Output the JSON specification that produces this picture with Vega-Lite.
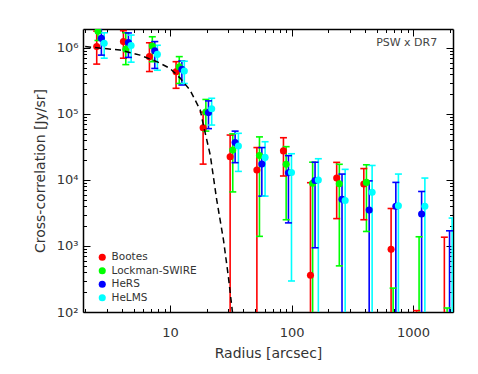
{
  "$schema": "https://vega.github.io/schema/vega-lite/v6.json",
  "width": 370,
  "height": 283,
  "autosize": "none",
  "padding": {"left": 83, "top": 29, "right": 25, "bottom": 62},
  "background": "white",
  "config": {"view": {"stroke": null}},
  "datasets": {
    "d": [
      {"s": "Bootes", "r": 2.49, "v": 1050000, "lo": 570000, "hi": 1800000},
      {"s": "Lockman-SWIRE", "r": 2.55, "v": 1800000, "lo": 1300000, "hi": 2500000},
      {"s": "HeRS", "r": 2.72, "v": 1400000, "lo": 780000, "hi": 2000000},
      {"s": "HeLMS", "r": 2.87, "v": 1180000, "lo": 700000, "hi": 1700000},
      {"s": "Bootes", "r": 4.13, "v": 1250000, "lo": 700000, "hi": 1830000},
      {"s": "Lockman-SWIRE", "r": 4.32, "v": 960000, "lo": 560000, "hi": 1700000},
      {"s": "HeRS", "r": 4.54, "v": 1210000, "lo": 720000, "hi": 1690000},
      {"s": "HeLMS", "r": 4.78, "v": 1090000, "lo": 610000, "hi": 1570000},
      {"s": "Bootes", "r": 6.76, "v": 740000, "lo": 440000, "hi": 1200000},
      {"s": "Lockman-SWIRE", "r": 7.14, "v": 1070000, "lo": 620000, "hi": 1480000},
      {"s": "HeRS", "r": 7.48, "v": 910000, "lo": 490000, "hi": 1250000},
      {"s": "HeLMS", "r": 7.86, "v": 800000, "lo": 460000, "hi": 1100000},
      {"s": "Bootes", "r": 11.2, "v": 437000, "lo": 245000, "hi": 620000},
      {"s": "Lockman-SWIRE", "r": 11.9, "v": 520000, "lo": 290000, "hi": 740000},
      {"s": "HeRS", "r": 12.5, "v": 475000, "lo": 275000, "hi": 635000},
      {"s": "HeLMS", "r": 13.1, "v": 447000, "lo": 290000, "hi": 630000},
      {"s": "Bootes", "r": 18.7, "v": 62000, "lo": 17400, "hi": 107000},
      {"s": "Lockman-SWIRE", "r": 19.7, "v": 107000, "lo": 55000, "hi": 166000},
      {"s": "HeRS", "r": 20.7, "v": 105000, "lo": 60000, "hi": 158000},
      {"s": "HeLMS", "r": 22.0, "v": 120000, "lo": 68000, "hi": 173000},
      {"s": "Bootes", "r": 31.2, "v": 22500, "lo": 1, "hi": 48000},
      {"s": "Lockman-SWIRE", "r": 32.8, "v": 28500, "lo": 6600, "hi": 50000},
      {"s": "HeRS", "r": 34.3, "v": 37000, "lo": 18300, "hi": 55000},
      {"s": "HeLMS", "r": 36.5, "v": 32700, "lo": 13500, "hi": 51000},
      {"s": "Bootes", "r": 51.8, "v": 14200, "lo": 1, "hi": 31000},
      {"s": "Lockman-SWIRE", "r": 54.4, "v": 23500, "lo": 1400, "hi": 45000},
      {"s": "HeRS", "r": 56.9, "v": 17400, "lo": 5700, "hi": 31000},
      {"s": "HeLMS", "r": 60.5, "v": 22000, "lo": 5700, "hi": 38000},
      {"s": "Bootes", "r": 85.7, "v": 27600, "lo": 11500, "hi": 43700},
      {"s": "Lockman-SWIRE", "r": 90.2, "v": 17300, "lo": 2500, "hi": 32000},
      {"s": "HeRS", "r": 94.2, "v": 12900, "lo": 2240, "hi": 23400},
      {"s": "HeLMS", "r": 99.8, "v": 13000, "lo": 295, "hi": 25000},
      {"s": "Bootes", "r": 143, "v": 360, "lo": 1, "hi": 9100},
      {"s": "Lockman-SWIRE", "r": 149, "v": 8900, "lo": 1, "hi": 18600},
      {"s": "HeRS", "r": 156, "v": 9800, "lo": 940, "hi": 18600},
      {"s": "HeLMS", "r": 166, "v": 10000, "lo": 1, "hi": 21000},
      {"s": "Bootes", "r": 235, "v": 10700, "lo": 2600, "hi": 18500},
      {"s": "Lockman-SWIRE", "r": 247, "v": 8800, "lo": 500, "hi": 17300},
      {"s": "HeRS", "r": 260, "v": 5100, "lo": 1, "hi": 12300},
      {"s": "HeLMS", "r": 276, "v": 4900, "lo": 1, "hi": 14500},
      {"s": "Bootes", "r": 393, "v": 8700, "lo": 2500, "hi": 14900},
      {"s": "Lockman-SWIRE", "r": 413, "v": 9200, "lo": 1660, "hi": 17000},
      {"s": "HeRS", "r": 435, "v": 3500, "lo": 1, "hi": 9700},
      {"s": "HeLMS", "r": 460, "v": 6500, "lo": 1, "hi": 16600},
      {"s": "Bootes", "r": 659, "v": 890, "lo": 1, "hi": 3700},
      {"s": "Lockman-SWIRE", "r": 685, "v": 10, "lo": 1, "hi": 230},
      {"s": "HeRS", "r": 721, "v": 4000, "lo": 1, "hi": 9200},
      {"s": "HeLMS", "r": 757, "v": 4070, "lo": 1, "hi": 12300},
      {"s": "Bootes", "r": 1070, "v": 10, "lo": 1, "hi": 105},
      {"s": "Lockman-SWIRE", "r": 1120, "v": 10, "lo": 1, "hi": 1380},
      {"s": "HeRS", "r": 1175, "v": 3050, "lo": 1, "hi": 6700},
      {"s": "HeLMS", "r": 1250, "v": 4000, "lo": 1, "hi": 10700},
      {"s": "Bootes", "r": 1808, "v": 10, "lo": 1, "hi": 1360},
      {"s": "Lockman-SWIRE", "r": 1905, "v": 10, "lo": 1, "hi": 115},
      {"s": "HeRS", "r": 1995, "v": 10, "lo": 1, "hi": 1700},
      {"s": "HeLMS", "r": 2095, "v": 10, "lo": 1, "hi": 2650}
    ],
    "m": [
      {"r": 2.0, "v": 1050000},
      {"r": 3.87, "v": 930000},
      {"r": 5.66, "v": 780000},
      {"r": 7.79, "v": 620000},
      {"r": 10, "v": 490000},
      {"r": 12.1, "v": 350000},
      {"r": 14.6, "v": 230000},
      {"r": 17.7, "v": 115000},
      {"r": 18.8, "v": 68000},
      {"r": 21.4, "v": 24000},
      {"r": 24.2, "v": 5000},
      {"r": 27.5, "v": 1240},
      {"r": 30.2, "v": 340},
      {"r": 32.8, "v": 90},
      {"r": 34.0, "v": 50}
    ],
    "t": [{"r": 1580, "v": 1190000, "label": "PSW x DR7"}]
  },
  "layer": [
    {
      "data": {"name": "d"},
      "mark": {"type": "rule", "strokeWidth": 1.6, "clip": true},
      "encoding": {
        "x": {"field": "r", "type": "quantitative",
          "scale": {"type": "log", "domain": [1.92, 2130], "nice": false},
          "axis": {"orient": "bottom",
            "values": [2,3,4,5,6,7,8,9,10,20,30,40,50,60,70,80,90,100,200,300,400,500,600,700,800,900,1000,2000],
            "labelExpr": "datum.value == 10 ? '10' : datum.value == 100 ? '100' : datum.value == 1000 ? '1000' : ''",
            "tickSize": {"condition": {"test": "indexof([10,100,1000], datum.value) >= 0", "value": -7}, "value": -3.5},
            "labelPadding": 21, "title": "Radius [arcsec]", "grid": false,
            "domainColor": "black", "domainWidth": 1.5, "tickColor": "black", "tickWidth": 1,
            "labelFont": "DejaVu Sans", "labelFontSize": 13, "labelColor": "#333",
            "titleFont": "DejaVu Sans", "titleFontSize": 14, "titleFontWeight": "normal", "titleColor": "#333",
            "titlePadding": 4, "labelFlush": false, "labelOverlap": false}},
        "y": {"field": "lo", "type": "quantitative",
          "scale": {"type": "log", "domain": [100, 1940000], "nice": false},
          "axis": {"orient": "left",
            "values": [100,200,300,400,500,600,700,800,900,1000,2000,3000,4000,5000,6000,7000,8000,9000,10000,20000,30000,40000,50000,60000,70000,80000,90000,100000,200000,300000,400000,500000,600000,700000,800000,900000,1000000],
            "labelExpr": "datum.value == 100 ? '10²' : datum.value == 1000 ? '10³' : datum.value == 10000 ? '10⁴' : datum.value == 100000 ? '10⁵' : datum.value == 1000000 ? '10⁶' : ''",
            "tickSize": {"condition": {"test": "indexof([100,1000,10000,100000,1000000], datum.value) >= 0", "value": -7}, "value": -3.5},
            "labelPadding": 12, "title": "Cross-correlation [Jy/sr]", "grid": false,
            "domainColor": "black", "domainWidth": 1.5, "tickColor": "black", "tickWidth": 1,
            "labelFont": "DejaVu Sans", "labelFontSize": 13, "labelColor": "#333",
            "titleFont": "DejaVu Sans", "titleFontSize": 14, "titleFontWeight": "normal", "titleColor": "#333",
            "titlePadding": 9, "labelFlush": false, "labelOverlap": false}},
        "y2": {"field": "hi"},
        "color": {"field": "s", "type": "nominal",
          "scale": {"domain": ["Bootes", "Lockman-SWIRE", "HeRS", "HeLMS"], "range": ["#ff0000", "#00ff00", "#0000ff", "#00ffff"]},
          "legend": null}
      }
    },
    {
      "data": {"name": "d"},
      "transform": [{"fold": ["lo", "hi"], "as": ["k", "val"]}],
      "mark": {"type": "tick", "orient": "horizontal", "size": 7, "thickness": 1.6, "clip": true, "opacity": 1},
      "encoding": {
        "x": {"field": "r", "type": "quantitative", "axis": null},
        "y": {"field": "val", "type": "quantitative", "axis": null},
        "color": {"field": "s", "type": "nominal", "legend": null}
      }
    },
    {
      "data": {"name": "d"},
      "mark": {"type": "point", "filled": true, "opacity": 1, "size": 50, "clip": true},
      "encoding": {
        "x": {"field": "r", "type": "quantitative",
          "axis": {"orient": "top",
            "values": [2,3,4,5,6,7,8,9,10,20,30,40,50,60,70,80,90,100,200,300,400,500,600,700,800,900,1000,2000],
            "labels": false, "title": null, "grid": false,
            "tickSize": {"condition": {"test": "indexof([10,100,1000], datum.value) >= 0", "value": -7}, "value": -3.5},
            "domainColor": "black", "domainWidth": 1.5, "tickColor": "black", "tickWidth": 1}},
        "y": {"field": "v", "type": "quantitative",
          "axis": {"orient": "right",
            "values": [100,200,300,400,500,600,700,800,900,1000,2000,3000,4000,5000,6000,7000,8000,9000,10000,20000,30000,40000,50000,60000,70000,80000,90000,100000,200000,300000,400000,500000,600000,700000,800000,900000,1000000],
            "labels": false, "title": null, "grid": false,
            "tickSize": {"condition": {"test": "indexof([100,1000,10000,100000,1000000], datum.value) >= 0", "value": -7}, "value": -3.5},
            "domainColor": "black", "domainWidth": 1.5, "tickColor": "black", "tickWidth": 1}},
        "color": {"field": "s", "type": "nominal",
          "legend": {"orient": "none", "legendX": 14, "legendY": 223, "title": null,
            "labelFont": "DejaVu Sans", "labelFontSize": 10.5, "labelColor": "#333",
            "symbolType": "circle", "symbolSize": 50, "symbolStrokeWidth": 0, "symbolOpacity": 1,
            "rowPadding": 2.5, "padding": 0, "labelOffset": 4}}
      }
    },
    {
      "data": {"name": "m"},
      "mark": {"type": "line", "color": "black", "strokeWidth": 1.5, "strokeDash": [6, 4], "clip": true},
      "encoding": {
        "x": {"field": "r", "type": "quantitative", "axis": null},
        "y": {"field": "v", "type": "quantitative", "axis": null}
      }
    },
    {
      "data": {"name": "t"},
      "mark": {"type": "text", "align": "right", "baseline": "middle", "font": "DejaVu Sans", "fontSize": 11, "color": "#444"},
      "encoding": {
        "x": {"field": "r", "type": "quantitative", "axis": null},
        "y": {"field": "v", "type": "quantitative", "axis": null},
        "text": {"field": "label"}
      }
    }
  ],
  "resolve": {"axis": {"x": "independent", "y": "independent"}, "legend": {"color": "independent"}}
}
